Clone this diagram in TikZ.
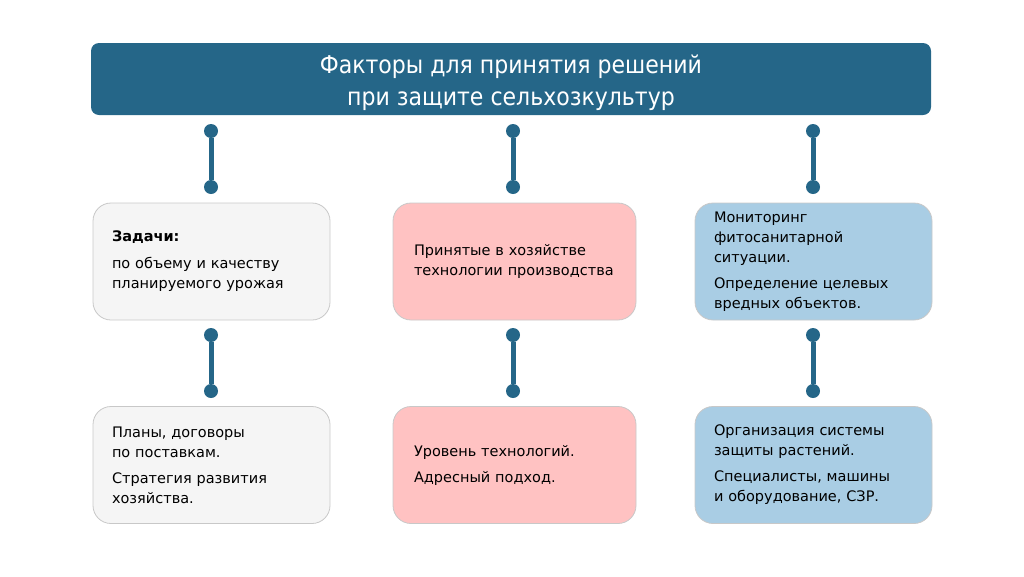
\documentclass[tikz,border=0pt]{standalone}
\usepackage{fontspec}
\setmainfont{DejaVu Sans}
\newfontfamily\titlefont{DejaVu Sans Condensed}

\definecolor{headblue}{HTML}{256688}
\definecolor{greybox}{HTML}{F5F5F5}
\definecolor{pinkbox}{HTML}{FFC2C2}
\definecolor{bluebox}{HTML}{A9CDE4}
\definecolor{boxline}{HTML}{C8C8C8}

\tikzset{
  header/.style={draw=none, fill=headblue, rounded corners=8pt, minimum width=840pt,
    minimum height=72pt},
  headtext/.style={text=white, align=center, yshift=-4pt,
    font=\titlefont\fontsize{24.5pt}{32pt}\selectfont},
  factor/.style={draw=boxline, line width=0.8pt, rounded corners=18pt, text width=199pt,
    inner xsep=19pt, minimum height=117pt, align=left,
    font=\fontsize{14.5pt}{20pt}\selectfont},
  wide/.style={text width=201pt, inner xsep=21pt},
  dot/.style={circle, fill=headblue, minimum size=14pt, inner sep=0pt},
  link/.style={headblue, line width=5pt}
}

\begin{document}
\begin{tikzpicture}[x=1pt,y=-1pt]
\useasboundingbox (0,0) rectangle (1024,576);

\node[header, label={[headtext]center:Факторы для принятия решений\\при защите сельхозкультур}]
  (head) at (511,79) {};

% upper row
\node[factor, fill=greybox] (plan) at (211.5,261.5)
  {\textbf{Задачи:}\\[7pt]по объему и качеству\\планируемого урожая};
\node[factor, wide, fill=pinkbox] (tech) at (514.5,261.5)
  {Принятые в хозяйстве\\технологии производства};
\node[factor, fill=bluebox] (monit) at (813.5,261.5)
  {Мониторинг\\фитосанитарной\\ситуации.\\[6pt]Определение целевых\\вредных объектов.};

% lower row
\node[factor, fill=greybox] (contr) at (211.5,465)
  {Планы, договоры\\по поставкам.\\[6pt]Стратегия развития\\хозяйства.};
\node[factor, wide, fill=pinkbox] (level) at (514.5,465)
  {Уровень технологий.\\[6pt]Адресный подход.};
\node[factor, fill=bluebox] (prot) at (813.5,465)
  {Организация системы\\защиты растений.\\[6pt]Специалисты, машины\\и оборудование, СЗР.};

\foreach \x/\n in {211/1,513/2,813/3}{ % connectors above and below
  \node[dot] (ua\n) at (\x,131) {};
  \node[dot] (ub\n) at (\x,187) {};
  \draw[link] (ua\n) -- (ub\n);
  \node[dot] (la\n) at (\x,335) {};
  \node[dot] (lb\n) at (\x,391) {};
  \draw[link] (la\n) -- (lb\n);
}
\end{tikzpicture}
\end{document}
